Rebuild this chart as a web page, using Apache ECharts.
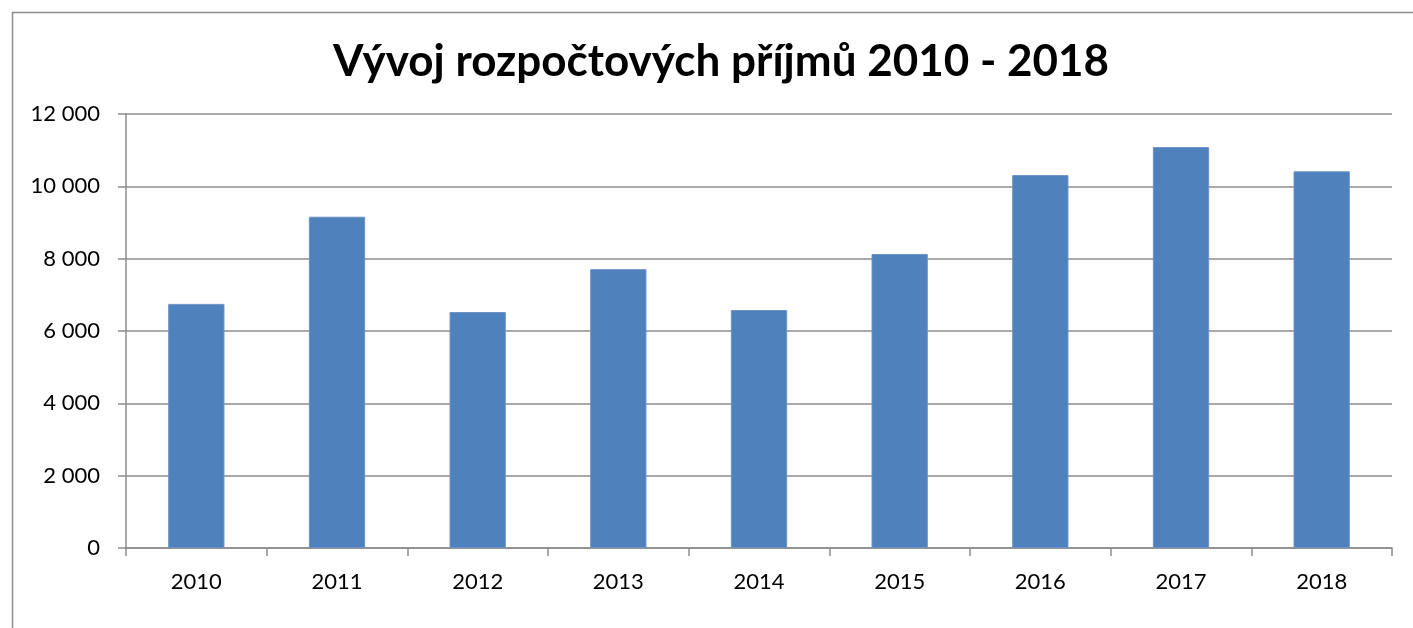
<!DOCTYPE html>
<html><head><meta charset="utf-8">
<script src="https://cdn.jsdelivr.net/npm/echarts@6/dist/echarts.min.js"></script>
<style>html,body{margin:0;padding:0;background:#fff}#c{width:1413px;height:628px}</style>
</head><body><div id="c"></div>
<script>
const titleText = 'Vývoj rozpočtových příjmů 2010 - 2018';
const categories = ['2010','2011','2012','2013','2014','2015','2016','2017','2018'];
const values = [6750, 9160, 6525, 7710, 6580, 8130, 10310, 11085, 10415];
const yTicks = {min: 0, max: 12000, interval: 2000};

const chart = echarts.init(document.getElementById('c'));
const font = 'Lato, "Open Sans", sans-serif';
chart.setOption({
  animation: false,
  backgroundColor: '#fff',
  title: {
    text: titleText, left: 328, top: 35,
    textStyle: {fontFamily: font, fontSize: 44, fontWeight: 'bold', color: '#000'}
  },
  graphic: [{
    type: 'rect', left: 10, top: 10,
    shape: {width: 1430, height: 660},
    style: {fill: 'none', stroke: '#8c8c8c', lineWidth: 1.5},
    silent: true
  }],
  grid: {left: 126, right: 21, top: 114, bottom: 80, containLabel: false},
  xAxis: {
    type: 'category', data: categories,
    axisLine: {lineStyle: {color: '#8c8c8c', width: 1.5}},
    axisTick: {show: true, length: 8, alignWithLabel: false, lineStyle: {color: '#8c8c8c', width: 1.5}},
    axisLabel: {fontFamily: font, fontSize: 22, color: '#000', margin: 23}
  },
  yAxis: {
    type: 'value', min: yTicks.min, max: yTicks.max, interval: yTicks.interval,
    axisLine: {show: true, lineStyle: {color: '#8c8c8c', width: 1.5}},
    axisTick: {show: true, length: 8, lineStyle: {color: '#8c8c8c', width: 1.5}},
    splitLine: {lineStyle: {color: '#8c8c8c', width: 1.5}},
    axisLabel: {
      fontFamily: font, fontSize: 22, color: '#000', margin: 26,
      formatter: v => String(v).replace(/\B(?=(\d{3})+(?!\d))/g, ' ')
    }
  },
  series: [{
    type: 'bar', data: values, barWidth: '40%',
    itemStyle: {color: '#4f81bd', borderColor: '#6a93c8', borderWidth: 1}
  }]
});
</script></body></html>
